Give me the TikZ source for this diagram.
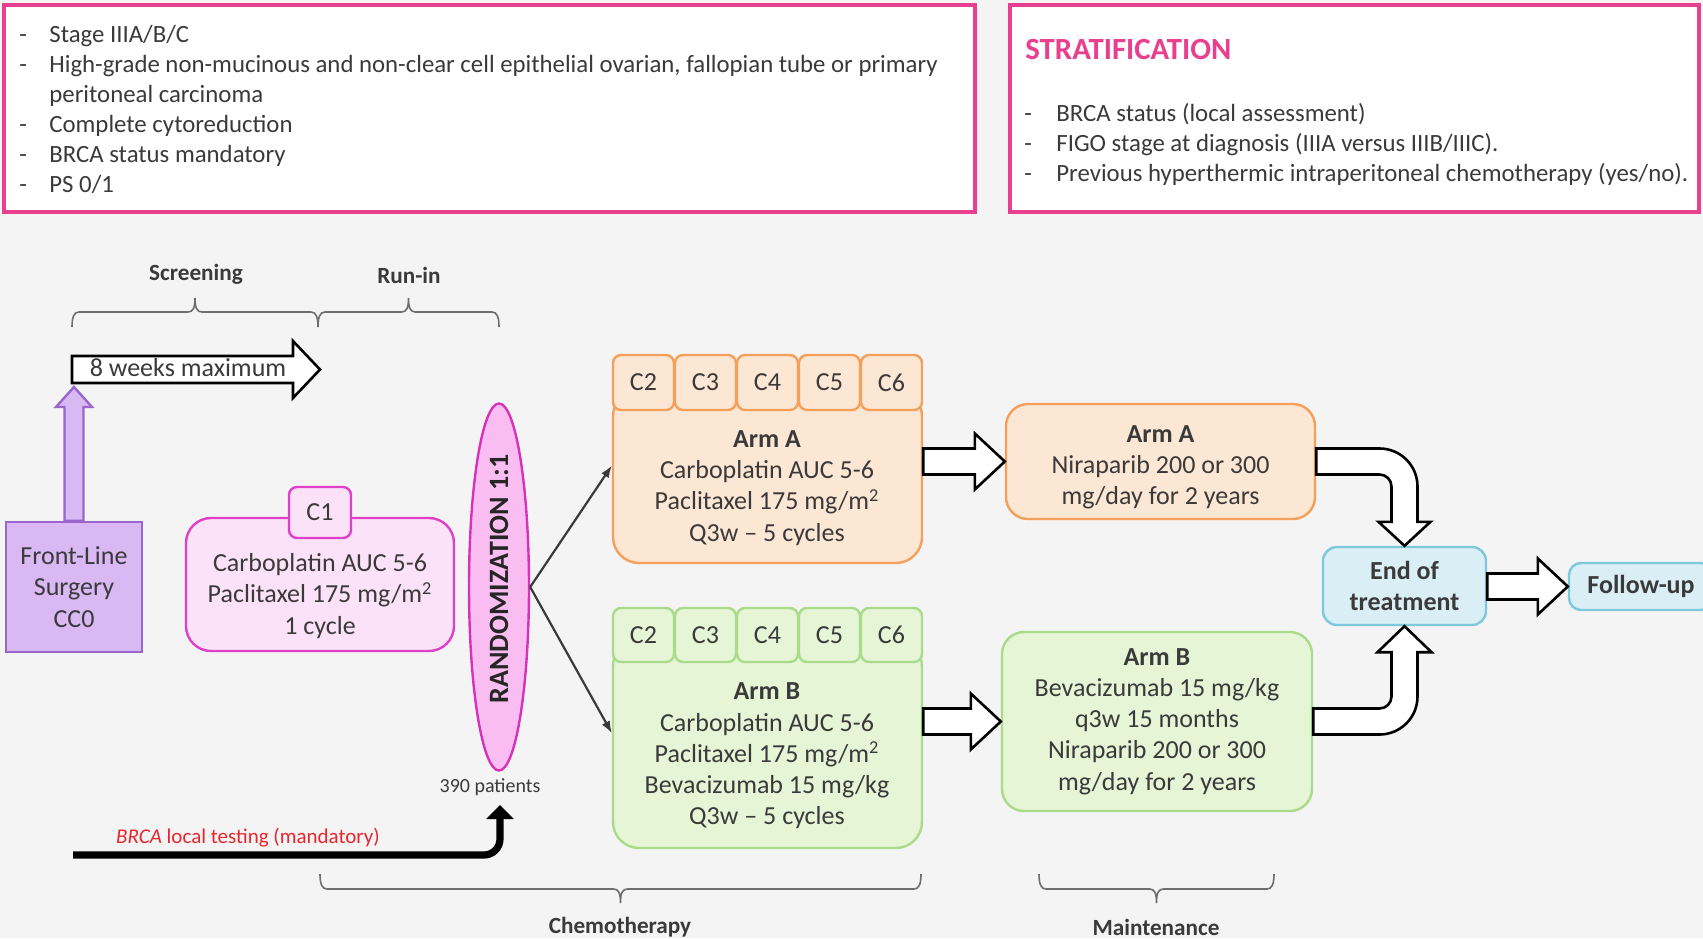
\documentclass[tikz,border=0pt]{standalone}
\usepackage{fontspec}
\setmainfont{Carlito}
\usetikzlibrary{shapes.geometric,arrows.meta,calc}
\definecolor{bgc}{HTML}{F4F4F4}
\definecolor{pinkf}{HTML}{E8408F}
\definecolor{tx}{HTML}{3A3A3A}
\definecolor{purL}{HTML}{D9B8F4}
\definecolor{purD}{HTML}{9A66CC}
\definecolor{pnkL}{HTML}{FCE2F9}
\definecolor{pnkD}{HTML}{E040C8}
\definecolor{elL}{HTML}{F9BDF2}
\definecolor{elD}{HTML}{D633B8}
\definecolor{orL}{HTML}{FCE6D4}
\definecolor{orD}{HTML}{F5A05A}
\definecolor{grL}{HTML}{E5F5D6}
\definecolor{grD}{HTML}{A9DB8B}
\definecolor{blL}{HTML}{DAEEF5}
\definecolor{blD}{HTML}{7EC8DC}
\definecolor{brc}{HTML}{6E6E6E}
\definecolor{redc}{HTML}{E8262E}
\tikzset{
  txt/.style={font=\fontsize{13}{15.6}\selectfont, text=tx, align=center, inner sep=0pt},
  toptxt/.style={font=\fontsize{12.4}{15}\selectfont, text=tx, inner sep=0pt},
  frame/.style={draw=pinkf, line width=2.2pt, fill=white, inner sep=0pt},
  phase/.style={font=\fontsize{11.6}{14}\selectfont\bfseries, text=tx, inner sep=0pt},
  bracel/.style={draw=brc, line width=0.8pt},
  flbox/.style={txt, draw=purD, fill=purL, line width=1.2pt, minimum width=68pt, minimum height=65pt},
  pinkbox/.style={draw=pnkD, fill=pnkL, line width=1.2pt, inner sep=0pt},
  pinktab/.style={txt, draw=pnkD, fill=pnkL, line width=1.2pt, rounded corners=4pt, minimum width=31pt, minimum height=25.5pt},
  orbox/.style={draw=orD, fill=orL, line width=1.2pt, inner sep=0pt},
  ortab/.style={txt, draw=orD, fill=orL, line width=1.2pt, rounded corners=4pt, minimum width=30.5pt, minimum height=27.5pt},
  grbox/.style={draw=grD, fill=grL, line width=1.2pt, inner sep=0pt},
  grtab/.style={txt, draw=grD, fill=grL, line width=1.2pt, rounded corners=4pt, minimum width=30.5pt, minimum height=27pt},
  blbox/.style={txt, font=\fontsize{13}{15.6}\selectfont\bfseries, draw=blD, fill=blL, line width=1.2pt},
  blockarr/.style={draw=black, fill=white, line width=1.3pt, line join=miter},
  purarr/.style={draw=purD, fill=purL, line width=1.2pt},
  thinarr/.style={draw=tx, line width=1.1pt, -{Latex[length=6pt,width=4.5pt]}},
}
\newcommand\hblockarrow[2]{%
  \draw[blockarr] let \p1=(#1), \p2=(#2) in
   (\x1,\y2+6.5pt) -- (\x2-15pt,\y2+6.5pt) -- (\x2-15pt,\y2+14pt) -- (\x2,\y2)
   -- (\x2-15pt,\y2-14pt) -- (\x2-15pt,\y2-6.5pt) -- (\x1,\y2-6.5pt) -- cycle;}
% #1 left x, #2 right x, #3 y of the ends, #4 direction (-1 up, 1 down)
\newcommand\phasebrace[4]{%
  \draw[bracel] ({#1},{#3}) .. controls ({#1},{#3+(#4)*10}) and ({#1+2},{#3+(#4)*15}) .. ({#1+7},{#3+(#4)*15})
   -- ({(#1+#2)/2-7},{#3+(#4)*15}) .. controls ({(#1+#2)/2-2},{#3+(#4)*15}) and ({(#1+#2)/2},{#3+(#4)*19}) .. ({(#1+#2)/2},{#3+(#4)*29})
   .. controls ({(#1+#2)/2},{#3+(#4)*19}) and ({(#1+#2)/2+2},{#3+(#4)*15}) .. ({(#1+#2)/2+7},{#3+(#4)*15})
   -- ({#2-7},{#3+(#4)*15}) .. controls ({#2-2},{#3+(#4)*15}) and ({#2},{#3+(#4)*10}) .. ({#2},{#3});}
\begin{document}
\begin{tikzpicture}[x=0.5pt,y=-0.5pt]
\fill[bgc] (0,0) rectangle (1703,938);
\useasboundingbox (0,0) rectangle (1703,938);

% top frames
\node[frame, minimum width=485.5pt, minimum height=103.5pt] (incl) at (489.5,108.5) {};
\node[frame, minimum width=344.5pt, minimum height=103.5pt] (strat) at (1354.5,108.5) {};
\node[toptxt, anchor=base west] (incltxt) at (19,42) {\begin{tabular}[t]{@{}l@{}}
\makebox[15pt][l]{-}Stage IIIA/B/C\\
\makebox[15pt][l]{-}High-grade non-mucinous and non-clear cell epithelial ovarian, fallopian tube or primary\\
\makebox[15pt][l]{}peritoneal carcinoma\\
\makebox[15pt][l]{-}Complete cytoreduction\\
\makebox[15pt][l]{-}BRCA status mandatory\\
\makebox[15pt][l]{-}PS 0/1
\end{tabular}};
\node[anchor=base west, inner sep=0pt, font=\fontsize{15.4}{18}\selectfont\bfseries, text=pinkf] (strath) at (1025,59) {STRATIFICATION};
\node[toptxt, anchor=base west] (strattxt) at (1024,121) {\begin{tabular}[t]{@{}l@{}}
\makebox[16pt][l]{-}BRCA status (local assessment)\\
\makebox[16pt][l]{-}FIGO stage at diagnosis (IIIA versus IIIB/IIIC).\\
\makebox[16pt][l]{-}Previous hyperthermic intraperitoneal chemotherapy (yes/no).
\end{tabular}};

% phases and braces
\node[phase] (scr) at (196,274) {Screening};
\node[phase] (runl) at (409,275) {Run-in};
\node[phase] (chl) at (620,927) {Chemotherapy};
\node[phase] (mal) at (1156,927) {Maintenance};
\phasebrace{72}{318}{327}{-1}
\phasebrace{318}{499}{327}{-1}
\phasebrace{320}{921}{874}{1}
\phasebrace{1039}{1274}{874}{1}

% 8 weeks arrow
\coordinate (w8s) at (72,369.5);
\coordinate (w8e) at (320,369.5);
\draw[blockarr] let \p1=(w8s), \p2=(w8e) in
  (\x1,\y1+6.75pt) -- (\x2-13.5pt,\y1+6.75pt) -- (\x2-13.5pt,\y1+14.25pt) -- (\x2,\y1)
  -- (\x2-13.5pt,\y1-14.25pt) -- (\x2-13.5pt,\y1-6.75pt) -- (\x1,\y1-6.75pt) -- cycle;
\node[txt] (w8t) at (188,368) {8 weeks maximum};

% front-line surgery
\node[flbox] (fl) at (74,587) {Front-Line\\Surgery\\CC0};
\coordinate (flTip) at (74,387);
\draw[purarr] let \p1=(fl.north), \p2=(flTip) in
  (\x1-4.75pt,\y1) -- (\x1-4.75pt,\y2-10pt) -- (\x1-9pt,\y2-10pt) -- (\x1,\y2)
  -- (\x1+9pt,\y2-10pt) -- (\x1+4.75pt,\y2-10pt) -- (\x1+4.75pt,\y1) -- cycle;

% run-in
\node[pinkbox, minimum width=134pt, minimum height=66.5pt, rounded corners=12.5pt] (runin) at (320,584.5) {};
\node[pinktab] (c1) at (320,512.5) {C1};
\node[txt] (runtxt) at (320,596) {Carboplatin AUC 5-6\\Paclitaxel 175 mg/m\textsuperscript{2}\\1 cycle};

% randomization
\node[ellipse, draw=elD, fill=elL, line width=1.2pt, minimum width=30pt, minimum height=183.5pt, inner sep=0pt] (rand) at (499,587) {};
\node[rotate=90, inner sep=0pt, font=\fontsize{14}{16}\selectfont\bfseries, text=black!85] (randtxt) at (499,579) {RANDOMIZATION 1:1};
\node[inner sep=0pt, font=\fontsize{10}{12}\selectfont, text=tx] (pts) at (490,787) {390 patients};

% BRCA testing
\coordinate (brcaS) at (73,855);
\coordinate (brcaE) at (500,805);
\draw[line width=3.6pt, rounded corners=8pt, -{Triangle[width=13.5pt,length=7pt]}] (brcaS) -| (brcaE);
\node[inner sep=0pt, font=\fontsize{10.5}{12}\selectfont, text=redc] (brcat) at (248,838) {\textit{BRCA} local testing (mandatory)};

% chemo arm A
\node[orbox, minimum width=154.5pt, minimum height=86.5pt, rounded corners=13pt] (chemoA) at (767.5,476.5) {};
\foreach \i/\c in {0/C2,1/C3,2/C4,3/C5,4/C6}
  \node[ortab] (tA\i) at (643.5+62*\i,382.5) {\c};
\node[txt] (txtA) at (767,488) {\textbf{Arm A}\\Carboplatin AUC 5-6\\Paclitaxel 175 mg/m\textsuperscript{2}\\Q3w -- 5 cycles};

% chemo arm B
\node[grbox, minimum width=154.5pt, minimum height=104pt, rounded corners=13pt] (chemoB) at (767.5,744) {};
\foreach \i/\c in {0/C2,1/C3,2/C4,3/C5,4/C6}
  \node[grtab] (tB\i) at (643.5+62*\i,635) {\c};
\node[txt] (txtB) at (767,756) {\textbf{Arm B}\\Carboplatin AUC 5-6\\Paclitaxel 175 mg/m\textsuperscript{2}\\Bevacizumab 15 mg/kg\\Q3w -- 5 cycles};

% maintenance
\node[orbox, minimum width=154.5pt, minimum height=57.5pt, rounded corners=11pt] (mA) at (1160.5,461.5) {};
\node[txt] (mAtxt) at (1160.5,467) {\textbf{Arm A}\\Niraparib 200 or 300\\mg/day for 2 years};
\node[grbox, txt, minimum width=155pt, minimum height=89.5pt, rounded corners=11pt] (mB) at (1157,721.5) {\textbf{Arm B}\\Bevacizumab 15 mg/kg\\q3w 15 months\\Niraparib 200 or 300\\mg/day for 2 years};

% end / follow-up
\node[blbox, minimum width=81.5pt, minimum height=39pt, rounded corners=7pt] (end) at (1404.5,586) {End of\\treatment};
\node[blbox, minimum width=72pt, minimum height=23.5pt, rounded corners=6pt] (follow) at (1641,586.5) {Follow-up};

% connectors
\draw[thinarr] (rand.east) -- (chemoA.176);
\draw[thinarr] (rand.east) -- (chemoB.176);
\hblockarrow{chemoA.east}{mA.west}
\hblockarrow{chemoB.east}{mB.west}
\hblockarrow{end.east}{follow.west}
\draw[blockarr] let \p1=(mA.east), \p2=(end.north) in
  (\x1,\y1+6.5pt) -- (\x2-12.5pt,\y1+6.5pt)
  .. controls (\x2-2pt,\y1+6.5pt) and (\x2+6.5pt,\y1-2pt) .. (\x2+6.5pt,\y1-12.5pt)
  -- (\x2+6.5pt,\y2+12pt) -- (\x2+13pt,\y2+12pt) -- (\x2,\y2) -- (\x2-13pt,\y2+12pt)
  -- (\x2-6.5pt,\y2+12pt) -- (\x2-6.5pt,\y1-12.5pt)
  .. controls (\x2-6.5pt,\y1-9.2pt) and (\x2-9.2pt,\y1-6.5pt) .. (\x2-12.5pt,\y1-6.5pt)
  -- (\x1,\y1-6.5pt) -- cycle;
\draw[blockarr] let \p1=(mB.east), \p2=(end.south) in
  (\x1,\y1-6.5pt) -- (\x2-12.5pt,\y1-6.5pt)
  .. controls (\x2-2pt,\y1-6.5pt) and (\x2+6.5pt,\y1+2pt) .. (\x2+6.5pt,\y1+12.5pt)
  -- (\x2+6.5pt,\y2-13pt) -- (\x2+13.5pt,\y2-13pt) -- (\x2,\y2) -- (\x2-13.5pt,\y2-13pt)
  -- (\x2-6.5pt,\y2-13pt) -- (\x2-6.5pt,\y1+12.5pt)
  .. controls (\x2-6.5pt,\y1+9.2pt) and (\x2-9.2pt,\y1+6.5pt) .. (\x2-12.5pt,\y1+6.5pt)
  -- (\x1,\y1+6.5pt) -- cycle;
\end{tikzpicture}
\end{document}
